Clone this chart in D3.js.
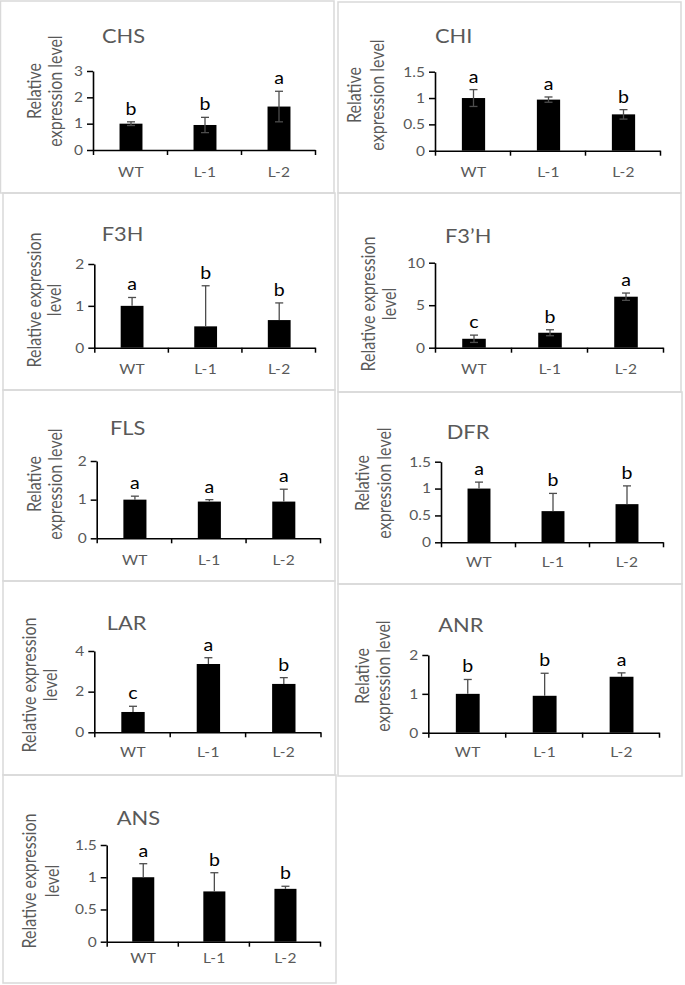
<!DOCTYPE html>
<html><head><meta charset="utf-8">
<script src="https://cdn.jsdelivr.net/npm/d3@7"></script>
<style>
body{margin:0;background:#fff}
svg{display:block}
text{font-family:Lato,"Open Sans",sans-serif}
</style>
</head><body>
<svg id="c" width="685" height="985"></svg>
<script>
// ---------- data ----------
const genes = ["CHS", "CHI", "F3H", "F3\u2019H", "FLS", "DFR", "LAR", "ANR", "ANS"];
const categories = ["WT", "L-1", "L-2"];
const means = [
  [1.00, 0.95, 1.65],
  [1.00, 0.97, 0.69],
  [1.00, 0.51, 0.66],
  [1.05, 1.76, 6.00],
  [1.00, 0.95, 0.95],
  [1.00, 0.58, 0.71],
  [1.00, 3.36, 2.38],
  [1.00, 0.95, 1.44],
  [1.00, 0.78, 0.82]
];
const errors = [
  [0.07, 0.29, 0.58],
  [0.16, 0.05, 0.09],
  [0.20, 0.97, 0.41],
  [0.43, 0.35, 0.43],
  [0.09, 0.05, 0.32],
  [0.12, 0.33, 0.34],
  [0.28, 0.31, 0.31],
  [0.37, 0.58, 0.10],
  [0.21, 0.29, 0.04]
];
const letters = [
  ["b", "b", "a"],
  ["a", "a", "b"],
  ["a", "b", "b"],
  ["c", "b", "a"],
  ["a", "a", "a"],
  ["a", "b", "b"],
  ["c", "a", "b"],
  ["b", "b", "a"],
  ["a", "b", "b"]
];
const errBothSides = [true, true, false, true, false, false, false, false, false];
const yMax = [3, 1.5, 2, 10, 2, 1.5, 4, 2, 1.5];
const yTicks = [
  [0, 1, 2, 3],
  [0, 0.5, 1, 1.5],
  [0, 1, 2],
  [0, 5, 10],
  [0, 1, 2],
  [0, 0.5, 1, 1.5],
  [0, 2, 4],
  [0, 1, 2],
  [0, 0.5, 1, 1.5]
];
const yLabelLines = [
  ["Relative", "expression level"],
  ["Relative", "expression level"],
  ["Relative expression", "level"],
  ["Relative expression", "level"],
  ["Relative", "expression level"],
  ["Relative", "expression level"],
  ["Relative expression", "level"],
  ["Relative", "expression level"],
  ["Relative expression", "level"]
];

// ---------- layout (pixel positions of each panel) ----------
const layout = [
  {box:[0.5,1,334,193],   ax:93,    axEnd:315,   y0:150,   yT:71,    tx:102,   ty:43,    l1:41,  l2:62,   lc:91,  cy:177},
  {box:[338,2,681,193],   ax:435,   axEnd:660,   y0:150.7, yT:71.7,  tx:435,   ty:43.3,  l1:361, l2:384,  lc:95,  cy:177},
  {box:[3,193,335,390],   ax:94.3,  axEnd:315,   y0:347.7, yT:264,   tx:101.7, ty:240.7, l1:41,  l2:61,   lc:300, cy:374.3},
  {box:[338,193,681,392], ax:435,   axEnd:663,   y0:347.7, yT:262.7, tx:445,   ty:243.3, l1:375, l2:396,  lc:304, cy:374.3},
  {box:[3,390,335,581],   ax:96.7,  axEnd:320,   y0:538.3, yT:461,   tx:110,   ty:435,   l1:41,  l2:62,   lc:484, cy:565},
  {box:[338,392,682,584], ax:441,   axEnd:663,   y0:542.3, yT:461.7, tx:446.7, ty:439.3, l1:369, l2:391,  lc:483, cy:566.7},
  {box:[3,581,335,775],   ax:94.3,  axEnd:320.5, y0:732.3, yT:651,   tx:106.7, ty:630,   l1:36,  l2:57,   lc:685, cy:757.3},
  {box:[338,584,682,776], ax:428.3, axEnd:659,   y0:732.7, yT:655,   tx:438.3, ty:631.7, l1:369, l2:390,  lc:676, cy:756.7},
  {box:[3,775,336,983],   ax:106.7, axEnd:320,   y0:941.7, yT:845,   tx:116.7, ty:825,   l1:36,  l2:59,   lc:881, cy:963.3}
];

const grey = "#595959";
const stretch = 1.15;   // source figure's text is slightly widened
const svg = d3.select("#c");

genes.forEach((gene, i) => {
  const L = layout[i];
  const g = svg.append("g");

  g.append("rect")
    .attr("x", L.box[0]).attr("y", L.box[1])
    .attr("width", L.box[2] - L.box[0]).attr("height", L.box[3] - L.box[1])
    .attr("fill", "none").attr("stroke", "#d9d9d9").attr("stroke-width", 1.5);

  const y = d3.scaleLinear().domain([0, yMax[i]]).range([L.y0, L.yT]);
  const xb = d3.scaleBand().domain(categories).range([L.ax, L.axEnd])
    .paddingInner(0.69).paddingOuter(0.345);
  const xe = d3.scaleLinear().domain([0, categories.length]).range([L.ax, L.axEnd]);
  const cx = c => xb(c) + xb.bandwidth() / 2 + 1;

  const rows = categories.map((c, j) => ({c, m: means[i][j], e: errors[i][j], l: letters[i][j]}));

  // bars
  g.selectAll("rect.bar").data(rows).join("rect").attr("class", "bar")
    .attr("x", d => xb(d.c) + 1).attr("width", xb.bandwidth())
    .attr("y", d => y(d.m)).attr("height", d => y(0) - y(d.m))
    .attr("fill", "#000");

  // error bars
  const cap = 4;
  const eb = g.selectAll("g.err").data(rows).join("g").attr("class", "err")
    .attr("stroke", "#4d4d4d").attr("stroke-width", 1.3);
  const lowV = d => errBothSides[i] ? d.m - d.e : d.m;
  eb.append("line")
    .attr("x1", d => cx(d.c)).attr("x2", d => cx(d.c))
    .attr("y1", d => y(d.m + d.e)).attr("y2", d => y(lowV(d)));
  eb.append("line")
    .attr("x1", d => cx(d.c) - cap).attr("x2", d => cx(d.c) + cap)
    .attr("y1", d => y(d.m + d.e)).attr("y2", d => y(d.m + d.e));
  if (errBothSides[i]) {
    eb.append("line")
      .attr("x1", d => cx(d.c) - cap).attr("x2", d => cx(d.c) + cap)
      .attr("y1", d => y(d.m - d.e)).attr("y2", d => y(d.m - d.e));
  }

  // y axis
  const ya = d3.axisLeft(y).tickValues(yTicks[i]).tickFormat(d => String(d))
    .tickSize(6).tickPadding(4).tickSizeOuter(0);
  const yg = g.append("g").attr("transform", `translate(${L.ax},0)`).call(ya);
  yg.select(".domain").attr("stroke", "#000").attr("stroke-width", 1.6);
  yg.selectAll(".tick line").attr("stroke", "#000").attr("stroke-width", 1.5);
  yg.selectAll(".tick text").attr("fill", grey).style("font-size", "13.5px")
    .style("font-family", "Lato, 'Open Sans', sans-serif")
    .attr("transform", function() {
      const x = +d3.select(this).attr("x");
      return `translate(${x},0) scale(${stretch},1) translate(${-x},0)`;
    });

  // x axis (ticks at category boundaries)
  const xa = d3.axisBottom(xe).tickValues(d3.range(categories.length + 1)).tickFormat("")
    .tickSize(5).tickSizeOuter(0);
  const xg = g.append("g").attr("transform", `translate(0,${L.y0})`).call(xa);
  xg.select(".domain").attr("stroke", "#000").attr("stroke-width", 1.6);
  xg.selectAll(".tick line").attr("stroke", "#000").attr("stroke-width", 1.5);

  // category labels
  g.selectAll("text.cat").data(rows).join("text").attr("class", "cat")
    .attr("transform", d => `translate(${cx(d.c)},${L.cy}) scale(${stretch},1)`)
    .attr("text-anchor", "middle").attr("fill", grey).style("font-size", "13.5px")
    .style("letter-spacing", "0.3px")
    .text(d => d.c);

  // significance letters
  g.selectAll("text.sig").data(rows).join("text").attr("class", "sig")
    .attr("transform", d => `translate(${cx(d.c)},${y(d.m + d.e) - 7}) scale(${stretch},1)`)
    .attr("text-anchor", "middle").attr("fill", "#000").style("font-size", "17px")
    .text(d => d.l);

  // title
  g.append("text").attr("transform", `translate(${L.tx},${L.ty}) scale(${stretch},1)`)
    .attr("fill", grey).style("font-size", "19px").text(gene);

  // y label (two lines)
  [L.l1, L.l2].forEach((lx, k) => {
    g.append("text").attr("transform", `translate(${lx},${L.lc}) scale(${stretch},1) rotate(-90)`)
      .attr("text-anchor", "middle").attr("fill", grey).style("font-size", "16px")
      .text(yLabelLines[i][k]);
  });
});
</script>
</body></html>
